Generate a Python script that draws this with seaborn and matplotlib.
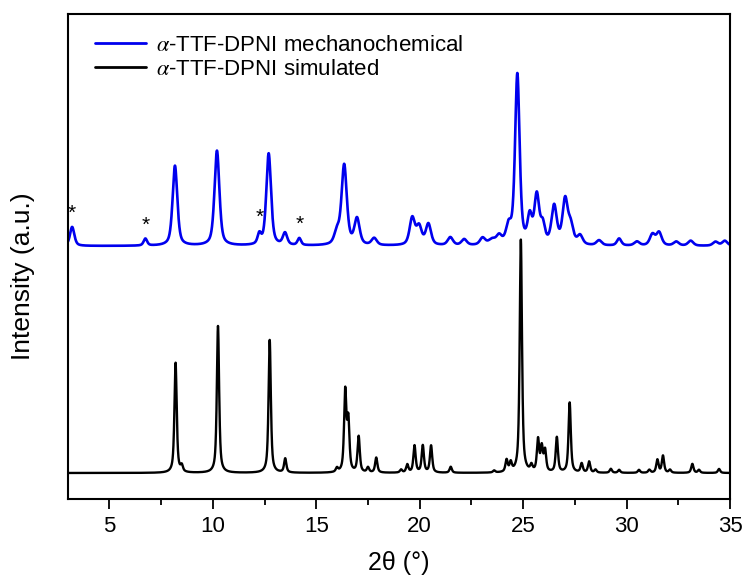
import numpy as np
import pandas as pd
import matplotlib
matplotlib.use("Agg")
import matplotlib.pyplot as plt
import seaborn as sns
from matplotlib.ticker import MultipleLocator

# ---------------- data ----------------
# peak lists: 2theta position, peak height (a.u.), FWHM (deg)
mech_pos = [3.2, 6.74, 8.17, 10.2, 12.25, 12.7, 13.49, 14.18, 16.0, 16.35, 16.97, 17.8,
            19.64, 19.97, 20.42, 21.48, 22.15, 23.04, 23.5, 23.84, 24.3, 24.72, 25.32,
            25.66, 25.95, 26.5, 27.03, 27.3, 27.75, 28.67, 29.64, 30.5, 31.25, 31.57,
            32.4, 33.1, 34.3, 34.75]
mech_height = [19, 7, 80, 95, 10, 92, 12, 7, 12, 80, 26, 7,
               27, 18, 21, 8, 6, 7, 5, 8, 17, 170, 26,
               48, 18, 38, 44, 18, 9, 5, 7, 4, 11, 13,
               4, 5, 4, 5]
mech_fwhm = [0.25, 0.2, 0.27, 0.28, 0.2, 0.27, 0.25, 0.2, 0.3, 0.3, 0.3, 0.3,
             0.3, 0.3, 0.3, 0.3, 0.3, 0.3, 0.4, 0.3, 0.3, 0.26, 0.25,
             0.28, 0.25, 0.3, 0.3, 0.3, 0.3, 0.3, 0.25, 0.3, 0.3, 0.3,
             0.3, 0.3, 0.3, 0.3]
mech_baseline = 253.0

sim_pos = [8.2, 8.5, 10.25, 12.75, 13.5, 16.0, 16.4, 16.55, 17.05, 17.5, 17.9, 19.1,
           19.4, 19.75, 20.15, 20.55, 21.5, 23.6, 24.2, 24.4, 24.89, 25.4, 25.72,
           25.9, 26.06, 26.63, 27.25, 27.83, 28.19, 28.5, 29.24, 29.64, 30.6, 31.1,
           31.49, 31.76, 32.1, 33.18, 33.5, 34.47]
sim_height = [110, 6, 147, 133, 14, 4, 80, 50, 36, 5, 15, 3,
              8, 27, 27, 27, 6, 2, 12, 9, 233, 6, 32,
              24, 21, 35, 70, 9, 11, 3, 4, 3, 3, 3,
              13, 17, 3, 9, 3, 4]
sim_fwhm = 0.13
sim_baseline = 26.0

impurity_pos = [3.2, 6.74, 12.25, 14.18]   # peaks marked with *

labels = ["$\\alpha$-TTF-DPNI mechanochemical", "$\\alpha$-TTF-DPNI simulated"]
xticks = [5, 10, 15, 20, 25, 30, 35]


# ---------------- profile from peak list (pseudo-Voigt) ----------------
def pattern(x, pos, height, fwhm, base, eta=0.5):
    y = np.full_like(x, base)
    fwhm = np.broadcast_to(np.asarray(fwhm, float), (len(pos),))
    for p, h, w in zip(pos, height, fwhm):
        d = (x - p) / (w / 2.0)
        y += h * (eta / (1 + d ** 2) + (1 - eta) * np.exp(-np.log(2) * d ** 2))
    return y


x = np.linspace(3, 35, 8001)
df = pd.concat([
    pd.DataFrame({"two_theta": x,
                  "intensity": pattern(x, mech_pos, mech_height, mech_fwhm, mech_baseline, 0.55),
                  "pattern": labels[0]}),
    pd.DataFrame({"two_theta": x,
                  "intensity": pattern(x, sim_pos, sim_height, sim_fwhm, sim_baseline, 0.7),
                  "pattern": labels[1]}),
])

# ---------------- style ----------------
sns.set_style("ticks")
plt.rcParams["font.family"] = ["Liberation Sans", "DejaVu Sans"]
plt.rcParams["mathtext.fontset"] = "stix"
plt.rcParams["text.color"] = "black"

fig = plt.figure(figsize=(7.48, 5.88), dpi=100)
ax = fig.add_axes([68 / 748, 1 - 499 / 588, (730 - 68) / 748, (499 - 14) / 588])

sns.lineplot(data=df[df["pattern"] == labels[0]], x="two_theta", y="intensity",
             color="#0000ee", lw=1.9, ax=ax, label=labels[0])
sns.lineplot(data=df[df["pattern"] == labels[1]], x="two_theta", y="intensity",
             color="black", lw=1.7, ax=ax, label=labels[1])

# impurity stars
mech_df = df[df["pattern"] == labels[0]]
for p in impurity_pos:
    yv = np.interp(p, mech_df["two_theta"], mech_df["intensity"])
    ax.text(p, yv + 4, "*", ha="center", va="bottom", fontsize=15, color="black")

ax.set_xlim(3, 35)
ax.set_ylim(0, 485)
ax.set_xticks(xticks)
ax.xaxis.set_minor_locator(MultipleLocator(2.5))
ax.set_yticks([])
ax.tick_params(axis="x", which="major", direction="out", length=7, width=1.3,
               labelsize=16, pad=5, color="black", labelcolor="black")
ax.tick_params(axis="x", which="minor", direction="out", length=4, width=1.3, color="black")
for s in ax.spines.values():
    s.set_linewidth(1.5)
    s.set_color("black")

ax.set_xlabel("2θ (°)", fontsize=18, labelpad=10, color="black")
ax.set_ylabel("Intensity (a.u.)", fontsize=19, color="black")
ax.yaxis.set_label_coords(-0.05, 0.46)

leg = ax.legend(loc="upper left", bbox_to_anchor=(0.012, 0.996), frameon=False,
                fontsize=16, handlelength=2.3, handletextpad=0.45,
                labelspacing=0.15, borderaxespad=0.45)
for line in leg.get_lines():
    line.set_linewidth(2.0)
for t in leg.get_texts():
    t.set_color("black")

fig.savefig("out.png", dpi=100)
